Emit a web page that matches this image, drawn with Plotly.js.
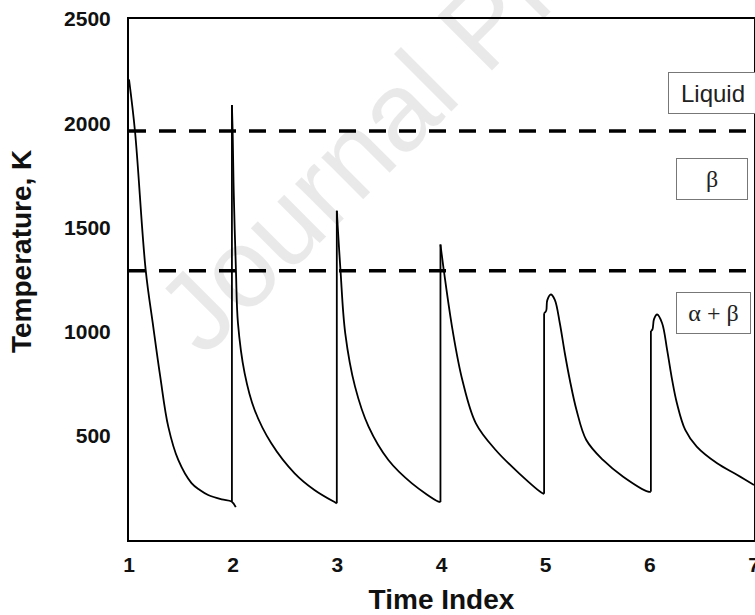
<!DOCTYPE html>
<html>
<head>
<meta charset="utf-8">
<script src="https://cdn.plot.ly/plotly-3.0.1.min.js"></script>
<style>html,body{margin:0;padding:0;background:#fff;}#chart{width:755px;height:615px;}</style>
</head>
<body>
<div id="chart"></div>
<script>
// Thermal history: time index vs temperature (K); null separates heating cycles
const timeIndex = [
  1.00, 1.058, 1.16, 1.233, 1.30, 1.377, 1.473, 1.60, 1.68, 1.76, 1.89, 1.985, 2.025, null,
  1.988, 1.988, 1.995, 2.005, 2.027, 2.046, 2.11, 2.206, 2.366, 2.59, 2.78, 2.98, 2.995, null,
  2.995, 2.995, 3.03, 3.076, 3.17, 3.30, 3.49, 3.716, 3.97, 3.99, null,
  3.99, 3.99, 4.026, 4.106, 4.20, 4.33, 4.52, 4.745, 4.97, 4.985, null,
  4.985, 4.985, 5.005, 5.015, 5.05, 5.088, 5.136, 5.184, 5.232, 5.296, 5.39, 5.55, 5.744, 5.984, 6.01, null,
  6.01, 6.01, 6.025, 6.04, 6.07, 6.118, 6.166, 6.214, 6.26, 6.34, 6.45, 6.646, 6.84, 7.0
];
const temperature = [
  2210, 1959, 1296, 1023, 784, 544, 384, 273, 240, 216, 195, 185, 158, null,
  185, 2087, 1963, 1679, 1287, 1041, 801, 624, 464, 320, 240, 180, 176, null,
  176, 1580, 1296, 992, 736, 544, 384, 272, 184, 182, null,
  182, 1418, 1280, 1008, 768, 560, 432, 320, 224, 222, null,
  222, 1088, 1100, 1150, 1178, 1152, 1040, 896, 768, 624, 480, 384, 304, 232, 232, null,
  232, 1003, 1010, 1060, 1082, 1040, 912, 768, 656, 528, 448, 368, 312, 264
];
// Phase boundaries (K)
const boundaryNames = ['Liquid/β', 'β/α+β'];
const boundaryTemps = [1963, 1292];
// Phase-region labels
const phaseLabels = ['Liquid', 'β', 'α + β'];
const phaseLabelX = [6.61, 6.595, 6.615];
const phaseLabelY = [2145, 1732, 1089];
const xTicks = [1, 2, 3, 4, 5, 6, 7];
const yTicks = [500, 1000, 1500, 2000, 2500];

const traces = boundaryTemps.map((t, i) => ({
  x: [1, 7], y: [t, t], mode: 'lines', name: boundaryNames[i],
  line: {color: '#000', width: 3.5, dash: '17px,13px'}, hoverinfo: 'skip'
}));

// split the series into cycles; vertical heating jump drawn straight, cooling drawn smooth
let cycles = [], cur = {x: [], y: []};
timeIndex.forEach((t, i) => {
  if (t === null) { cycles.push(cur); cur = {x: [], y: []}; }
  else { cur.x.push(t); cur.y.push(temperature[i]); }
});
cycles.push(cur);
cycles.forEach((c, k) => {
  const s = k === 0 ? 0 : 1;
  if (s === 1) {
    traces.push({x: c.x.slice(0, 2), y: c.y.slice(0, 2), mode: 'lines',
      line: {color: '#000', width: 1.8}, name: 'heating ' + (k + 1)});
  }
  traces.push({x: c.x.slice(s), y: c.y.slice(s), mode: 'lines',
    line: {color: '#000', width: 1.8, shape: 'spline', smoothing: 1}, name: 'cycle ' + (k + 1)});
});

const boxW = [88, 70, 73];
const annotations = [{
  xref: 'paper', yref: 'paper', x: 0.566, y: 0.987, text: 'Journal Pre-proof',
  showarrow: false, textangle: -45, xanchor: 'center', yanchor: 'middle',
  font: {family: 'Liberation Sans, Arial, sans-serif', size: 112, color: 'rgba(0,0,0,0.085)'}
}];
phaseLabels.forEach((txt, i) => annotations.push({
  x: phaseLabelX[i], y: phaseLabelY[i], xref: 'x', yref: 'y',
  text: txt, showarrow: false, xanchor: 'center', yanchor: 'middle',
  width: boxW[i], height: 40, borderpad: 0,
  bordercolor: '#777', borderwidth: 1, bgcolor: '#fff',
  font: i === 0 ? {family: 'Liberation Sans, Arial, sans-serif', size: 24, color: '#222'}
                : {family: 'Liberation Serif, Times New Roman, serif', size: 24, color: '#222'}
}));

const axisFont = {family: 'Liberation Sans, Arial, sans-serif', size: 21, color: '#111', weight: 'bold'};
const titleFont = {family: 'Liberation Sans, Arial, sans-serif', size: 28, color: '#111', weight: 'bold'};

// y-axis title placed as rotated text to match the reference position
annotations.push({
  xref: 'paper', yref: 'paper', x: -0.171, y: 0.553, text: 'Temperature, K',
  showarrow: false, textangle: -90, xanchor: 'center', yanchor: 'middle', font: titleFont
});

const layout = {
  width: 755, height: 615,
  margin: {l: 129, r: 1, t: 19, b: 75},
  paper_bgcolor: '#fff', plot_bgcolor: '#fff',
  showlegend: false,
  xaxis: {
    range: [1, 7], tickvals: xTicks, ticktext: xTicks.map(String),
    showline: true, linecolor: '#000', linewidth: 2, mirror: true,
    showgrid: false, zeroline: false, ticks: '', ticklabelstandoff: 5,
    ticklabeloverflow: 'allow',
    tickfont: axisFont,
    title: {text: 'Time Index', font: titleFont, standoff: 18}
  },
  yaxis: {
    range: [0, 2500], tickvals: yTicks, ticktext: yTicks.map(String),
    showline: true, linecolor: '#000', linewidth: 2, mirror: true,
    showgrid: false, zeroline: false, ticks: '', ticklabelstandoff: 12,
    tickfont: axisFont
  },
  annotations: annotations
};

Plotly.newPlot('chart', traces, layout, {displayModeBar: false, staticPlot: true});
</script>
</body>
</html>
